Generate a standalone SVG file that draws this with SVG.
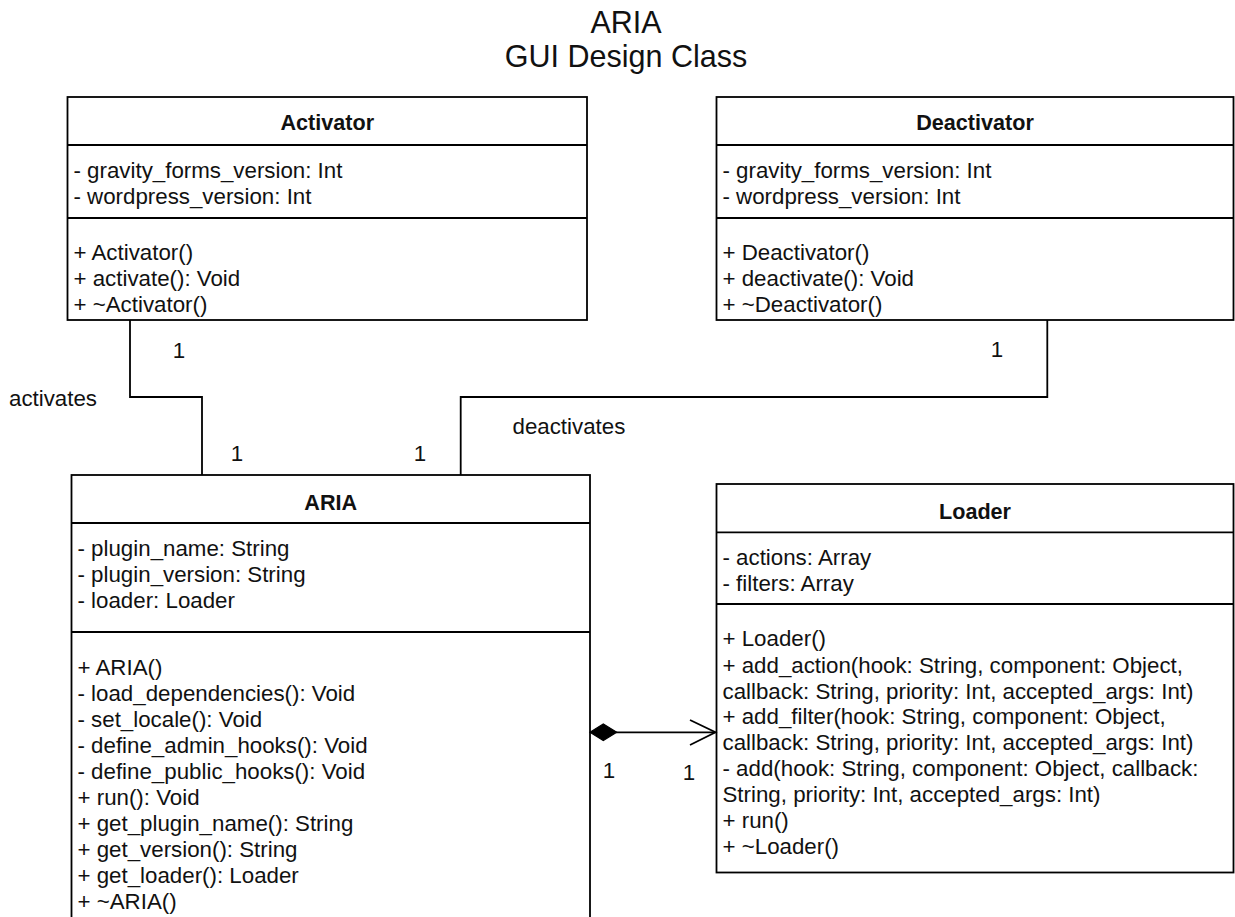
<svg xmlns="http://www.w3.org/2000/svg" width="1235" height="917" viewBox="0 0 1235 917">
<defs>
<style>
.box{fill:#fff;stroke:#000;stroke-width:1.8}
.div{stroke:#000;stroke-width:1.8}
.t{font-family:"Liberation Sans",Arial,sans-serif;font-size:22.3px;fill:#111}
.h{font-weight:bold;text-anchor:middle;font-size:21.6px}
.title{font-family:"Liberation Sans",Arial,sans-serif;font-size:30.5px;fill:#111;text-anchor:middle}
.conn{fill:none;stroke:#000;stroke-width:1.8}
.m{text-anchor:middle}
</style>
</defs>
<rect width="1235" height="917" fill="#fff"/>
<g id="title">
<text class="title" x="626" y="33">ARIA</text>
<text class="title" x="626" y="66.5">GUI Design Class</text>
</g>
<g id="activator">
<rect class="box" x="67.5" y="97" width="519.5" height="223"/>
<line class="div" x1="67.5" y1="145" x2="587" y2="145"/>
<line class="div" x1="67.5" y1="218" x2="587" y2="218"/>
<text class="t h" x="327.3" y="129.5">Activator</text>
<text class="t" x="73.5" y="178">- gravity_forms_version: Int</text>
<text class="t" x="73.5" y="204">- wordpress_version: Int</text>
<text class="t" x="73.5" y="260">+ Activator()</text>
<text class="t" x="73.5" y="286">+ activate(): Void</text>
<text class="t" x="73.5" y="312">+ ~Activator()</text>
</g>
<g id="deactivator">
<rect class="box" x="716.5" y="97" width="517" height="223"/>
<line class="div" x1="716.5" y1="145" x2="1233.5" y2="145"/>
<line class="div" x1="716.5" y1="218" x2="1233.5" y2="218"/>
<text class="t h" x="975" y="129.5">Deactivator</text>
<text class="t" x="722.5" y="178">- gravity_forms_version: Int</text>
<text class="t" x="722.5" y="204">- wordpress_version: Int</text>
<text class="t" x="722.5" y="260">+ Deactivator()</text>
<text class="t" x="722.5" y="286">+ deactivate(): Void</text>
<text class="t" x="722.5" y="312">+ ~Deactivator()</text>
</g>
<g id="aria">
<rect class="box" x="71.5" y="475" width="518.5" height="460"/>
<line class="div" x1="71.5" y1="523" x2="590" y2="523"/>
<line class="div" x1="71.5" y1="632" x2="590" y2="632"/>
<text class="t h" x="330.7" y="509.5">ARIA</text>
<text class="t" x="77.5" y="556">- plugin_name: String</text>
<text class="t" x="77.5" y="582">- plugin_version: String</text>
<text class="t" x="77.5" y="608">- loader: Loader</text>
<text class="t" x="77.5" y="675">+ ARIA()</text>
<text class="t" x="77.5" y="701">- load_dependencies(): Void</text>
<text class="t" x="77.5" y="727">- set_locale(): Void</text>
<text class="t" x="77.5" y="753">- define_admin_hooks(): Void</text>
<text class="t" x="77.5" y="779">- define_public_hooks(): Void</text>
<text class="t" x="77.5" y="805">+ run(): Void</text>
<text class="t" x="77.5" y="831">+ get_plugin_name(): String</text>
<text class="t" x="77.5" y="857">+ get_version(): String</text>
<text class="t" x="77.5" y="883">+ get_loader(): Loader</text>
<text class="t" x="77.5" y="909">+ ~ARIA()</text>
</g>
<g id="loader">
<rect class="box" x="716.5" y="484" width="517" height="388.5"/>
<line class="div" x1="716.5" y1="532.3" x2="1233.5" y2="532.3"/>
<line class="div" x1="716.5" y1="604" x2="1233.5" y2="604"/>
<text class="t h" x="975" y="518.5">Loader</text>
<text class="t" x="722.5" y="564.5">- actions: Array</text>
<text class="t" x="722.5" y="591">- filters: Array</text>
<text class="t" x="722.5" y="646">+ Loader()</text>
<text class="t" x="722.5" y="672.5">+ add_action(hook: String, component: Object,</text>
<text class="t" x="722.5" y="698.5">callback: String, priority: Int, accepted_args: Int)</text>
<text class="t" x="722.5" y="724">+ add_filter(hook: String, component: Object,</text>
<text class="t" x="722.5" y="750">callback: String, priority: Int, accepted_args: Int)</text>
<text class="t" x="722.5" y="776">- add(hook: String, component: Object, callback:</text>
<text class="t" x="722.5" y="802">String, priority: Int, accepted_args: Int)</text>
<text class="t" x="722.5" y="828">+ run()</text>
<text class="t" x="722.5" y="854">+ ~Loader()</text>
</g>
<g id="connectors">
<polyline class="conn" points="130,320 130,397 202,397 202,475"/>
<text class="t" x="9" y="406">activates</text>
<text class="t m" x="179" y="358">1</text>
<text class="t m" x="237" y="461">1</text>
<polyline class="conn" points="1047.3,320 1047.3,397 460.7,397 460.7,475"/>
<text class="t" x="512.5" y="434">deactivates</text>
<text class="t m" x="997" y="357">1</text>
<text class="t m" x="420" y="461">1</text>
<line class="conn" x1="616" y1="732.3" x2="715.5" y2="732.3"/>
<polygon points="590,732.3 603.3,724 616.7,732.3 603.3,740.6" fill="#000" stroke="#000" stroke-width="1.2"/>
<polyline class="conn" points="690,720 715.5,732.3 690,745"/>
<text class="t m" x="609" y="778">1</text>
<text class="t m" x="689" y="780">1</text>
</g>
</svg>
